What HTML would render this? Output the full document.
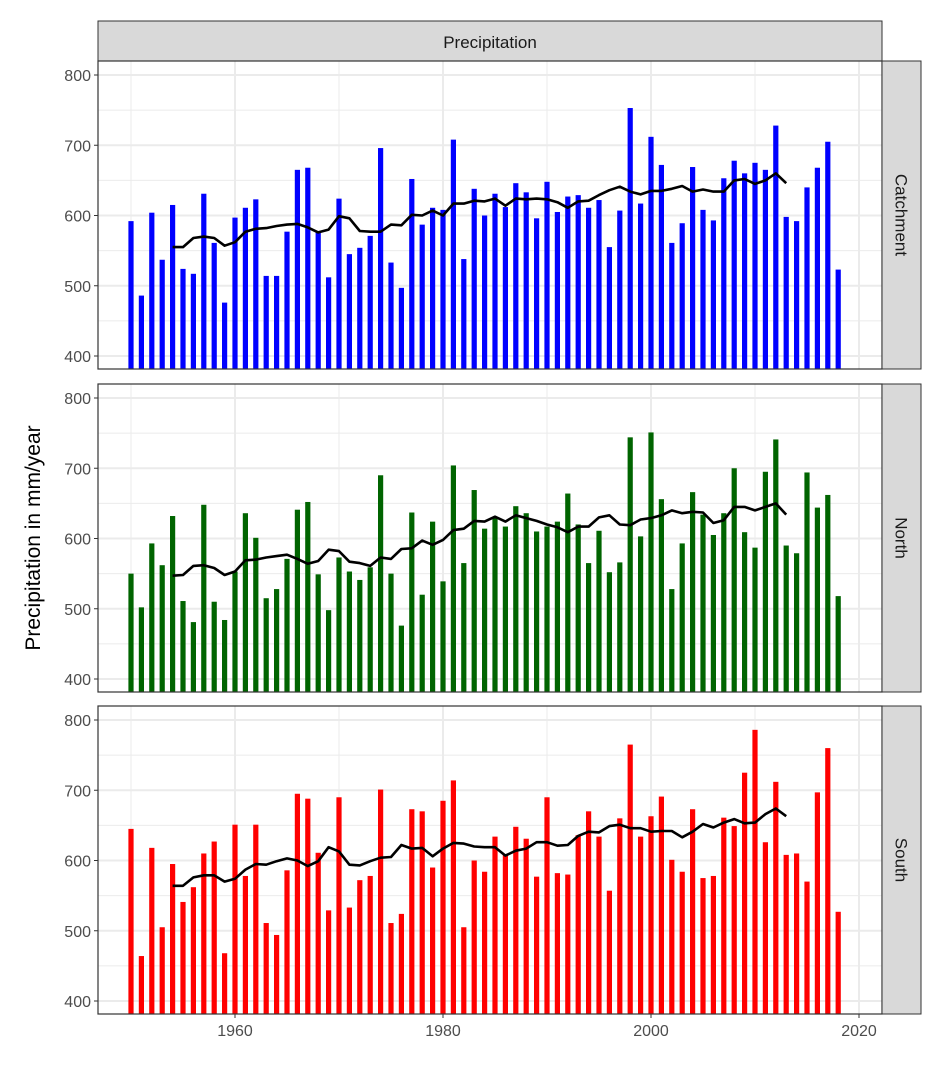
<!DOCTYPE html>
<html><head><meta charset="utf-8"><style>
html,body{margin:0;padding:0;background:#fff;}
svg text{font-family:"Liberation Sans",sans-serif;}
</style></head><body>
<svg id="chart" width="942" height="1062" xmlns="http://www.w3.org/2000/svg"></svg>
<script>
const years = [];
for (let y = 1950; y <= 2018; y++) years.push(y);
const catchmentValues = [592,486,604,537,615,524,517,631,561,476,597,611,623,514,514,577,665,668,577,512,624,545,554,571,696,533,497,652,587,611,608,708,538,638,600,631,612,646,633,596,648,605,627,629,611,622,555,607,753,617,712,672,561,589,669,608,593,653,678,660,675,665,728,598,592,640,668,705,523];
const northValues = [550,502,593,562,632,511,481,648,510,484,553,636,601,515,528,571,641,652,549,498,573,553,541,559,690,550,476,637,520,624,539,704,565,669,614,630,617,646,636,610,617,624,664,620,565,611,552,566,744,603,751,656,528,593,666,634,605,636,700,609,587,695,741,590,579,694,644,662,518];
const southValues = [645,464,618,505,595,541,562,610,627,468,651,578,651,511,494,586,695,688,611,529,690,533,572,578,701,511,524,673,670,590,685,714,505,600,584,634,609,648,631,577,690,582,580,636,670,634,557,660,765,634,663,691,601,584,673,575,578,661,649,725,786,626,712,608,610,570,697,760,527];
const maYears = [];
for (let y = 1954; y <= 2013; y++) maYears.push(y);
const catchmentMA = [555,555,568,570,568,557,562,577,581,582,585,587,588,583,576,580,599,596,578,577,577,587,586,601,600,607,600,617,617,621,620,624,614,624,623,624,623,619,611,620,621,629,636,641,634,630,635,635,638,642,634,637,634,634,650,652,645,650,660,646];
const northMA = [547,548,561,562,558,548,553,569,570,573,575,577,571,564,568,584,582,567,565,561,573,571,585,586,597,591,598,612,614,625,624,631,624,633,629,625,620,616,609,617,617,630,633,620,619,627,629,633,640,636,638,637,622,626,645,645,640,645,650,634];
const southMA = [564,564,576,579,579,570,574,587,595,594,599,603,600,592,599,619,613,594,593,599,604,605,622,617,618,606,617,625,624,620,619,619,607,614,617,626,626,621,622,635,641,640,649,651,646,646,641,642,642,633,641,652,647,654,659,653,654,666,674,663];
const yTicks = [400,500,600,700,800];
const xTicks = [1960,1980,2000,2020];
const panelNames = ["Catchment","North","South"];
const panelColors = ["#0000FF","#006400","#FF0000"];

const NS = "http://www.w3.org/2000/svg";
const svg = document.getElementById("chart");
function mk(tag, attrs, parent) {
  const e = document.createElementNS(NS, tag);
  for (const k in attrs) e.setAttribute(k, attrs[k]);
  (parent || svg).appendChild(e);
  return e;
}
const PL = 98, PR = 882;
const xs = y => 131 + (y - 1950) * 10.4;
const panels = [{top:61,bottom:369,y800:75,y400:356},{top:384,bottom:692,y800:398,y400:679},{top:706,bottom:1014,y800:720,y400:1001}];
const series = [catchmentValues, northValues, southValues];
const mas = [catchmentMA, northMA, southMA];

const ts = mk("g", {});


mk("rect", {x:PL, y:21, width:PR-PL, height:40, fill:"#D9D9D9", stroke:"#333", "stroke-width":1}, ts);
const tt = mk("text", {x:(PL+PR)/2, y:48, "text-anchor":"middle", "font-size":17, fill:"#1A1A1A"}, ts);
tt.textContent = "Precipitation";

panels.forEach((p, i) => {
  const ys = v => p.y400 + (v - 400) * (p.y800 - p.y400) / 400;
  const g = mk("g", {});
  
  
  mk("rect", {x:PL, y:p.top, width:PR-PL, height:p.bottom-p.top, fill:"#fff"}, g);
  for (let v = 450; v <= 750; v += 100) mk("line", {x1:PL, x2:PR, y1:ys(v), y2:ys(v), stroke:"#EBEBEB", "stroke-width":1}, g);
  for (let y = 1950; y <= 2010; y += 20) mk("line", {x1:xs(y), x2:xs(y), y1:p.top, y2:p.bottom, stroke:"#EBEBEB", "stroke-width":1}, g);
  yTicks.forEach(v => mk("line", {x1:PL, x2:PR, y1:ys(v), y2:ys(v), stroke:"#EBEBEB", "stroke-width":2}, g));
  xTicks.forEach(y => mk("line", {x1:xs(y), x2:xs(y), y1:p.top, y2:p.bottom, stroke:"#EBEBEB", "stroke-width":2}, g));
  series[i].forEach((v, k) => {
    const yy = ys(v);
    const b = mk("rect", {x:xs(years[k]) - 2.6, y:yy, width:5.2, height:p.bottom - yy, fill:panelColors[i]}, g);
    
    
  });
  const pts = mas[i].map((v, k) => xs(maYears[k]).toFixed(1) + "," + ys(v).toFixed(1)).join(" ");
  const ln = mk("polyline", {points:pts, fill:"none", stroke:"#000", "stroke-width":2.6, "stroke-linejoin":"round"}, g);
  
  
  mk("rect", {x:PL, y:p.top, width:PR-PL, height:p.bottom-p.top, fill:"none", stroke:"#333", "stroke-width":1.2}, g);
  yTicks.forEach(v => {
    mk("line", {x1:PL-4, x2:PL, y1:ys(v), y2:ys(v), stroke:"#333", "stroke-width":1}, g);
    const t = mk("text", {x:PL-7, y:ys(v)+6, "text-anchor":"end", "font-size":16, fill:"#4D4D4D"}, g);
    
    
    t.textContent = v;
  });
  mk("rect", {x:PR, y:p.top, width:39, height:p.bottom-p.top, fill:"#D9D9D9", stroke:"#333", "stroke-width":1}, g);
  const cx = PR + 19.5, cy = (p.top + p.bottom) / 2;
  const st = mk("text", {x:cx, y:cy, "text-anchor":"middle", "font-size":17, fill:"#1A1A1A", transform:`rotate(90 ${cx} ${cy})`, dy:6}, g);
  
  
  st.textContent = panelNames[i];
});

xTicks.forEach(y => {
  mk("line", {x1:xs(y), x2:xs(y), y1:1014, y2:1018, stroke:"#333", "stroke-width":1});
  const t = mk("text", {x:xs(y), y:1036, "text-anchor":"middle", "font-size":16, fill:"#4D4D4D"});
  
  
  t.textContent = y;
});
const yt = mk("text", {x:33, y:538, "text-anchor":"middle", "font-size":21, fill:"#000", transform:"rotate(-90 33 538)", dy:7});


yt.textContent = "Precipitation in mm/year";
</script>
</body></html>
